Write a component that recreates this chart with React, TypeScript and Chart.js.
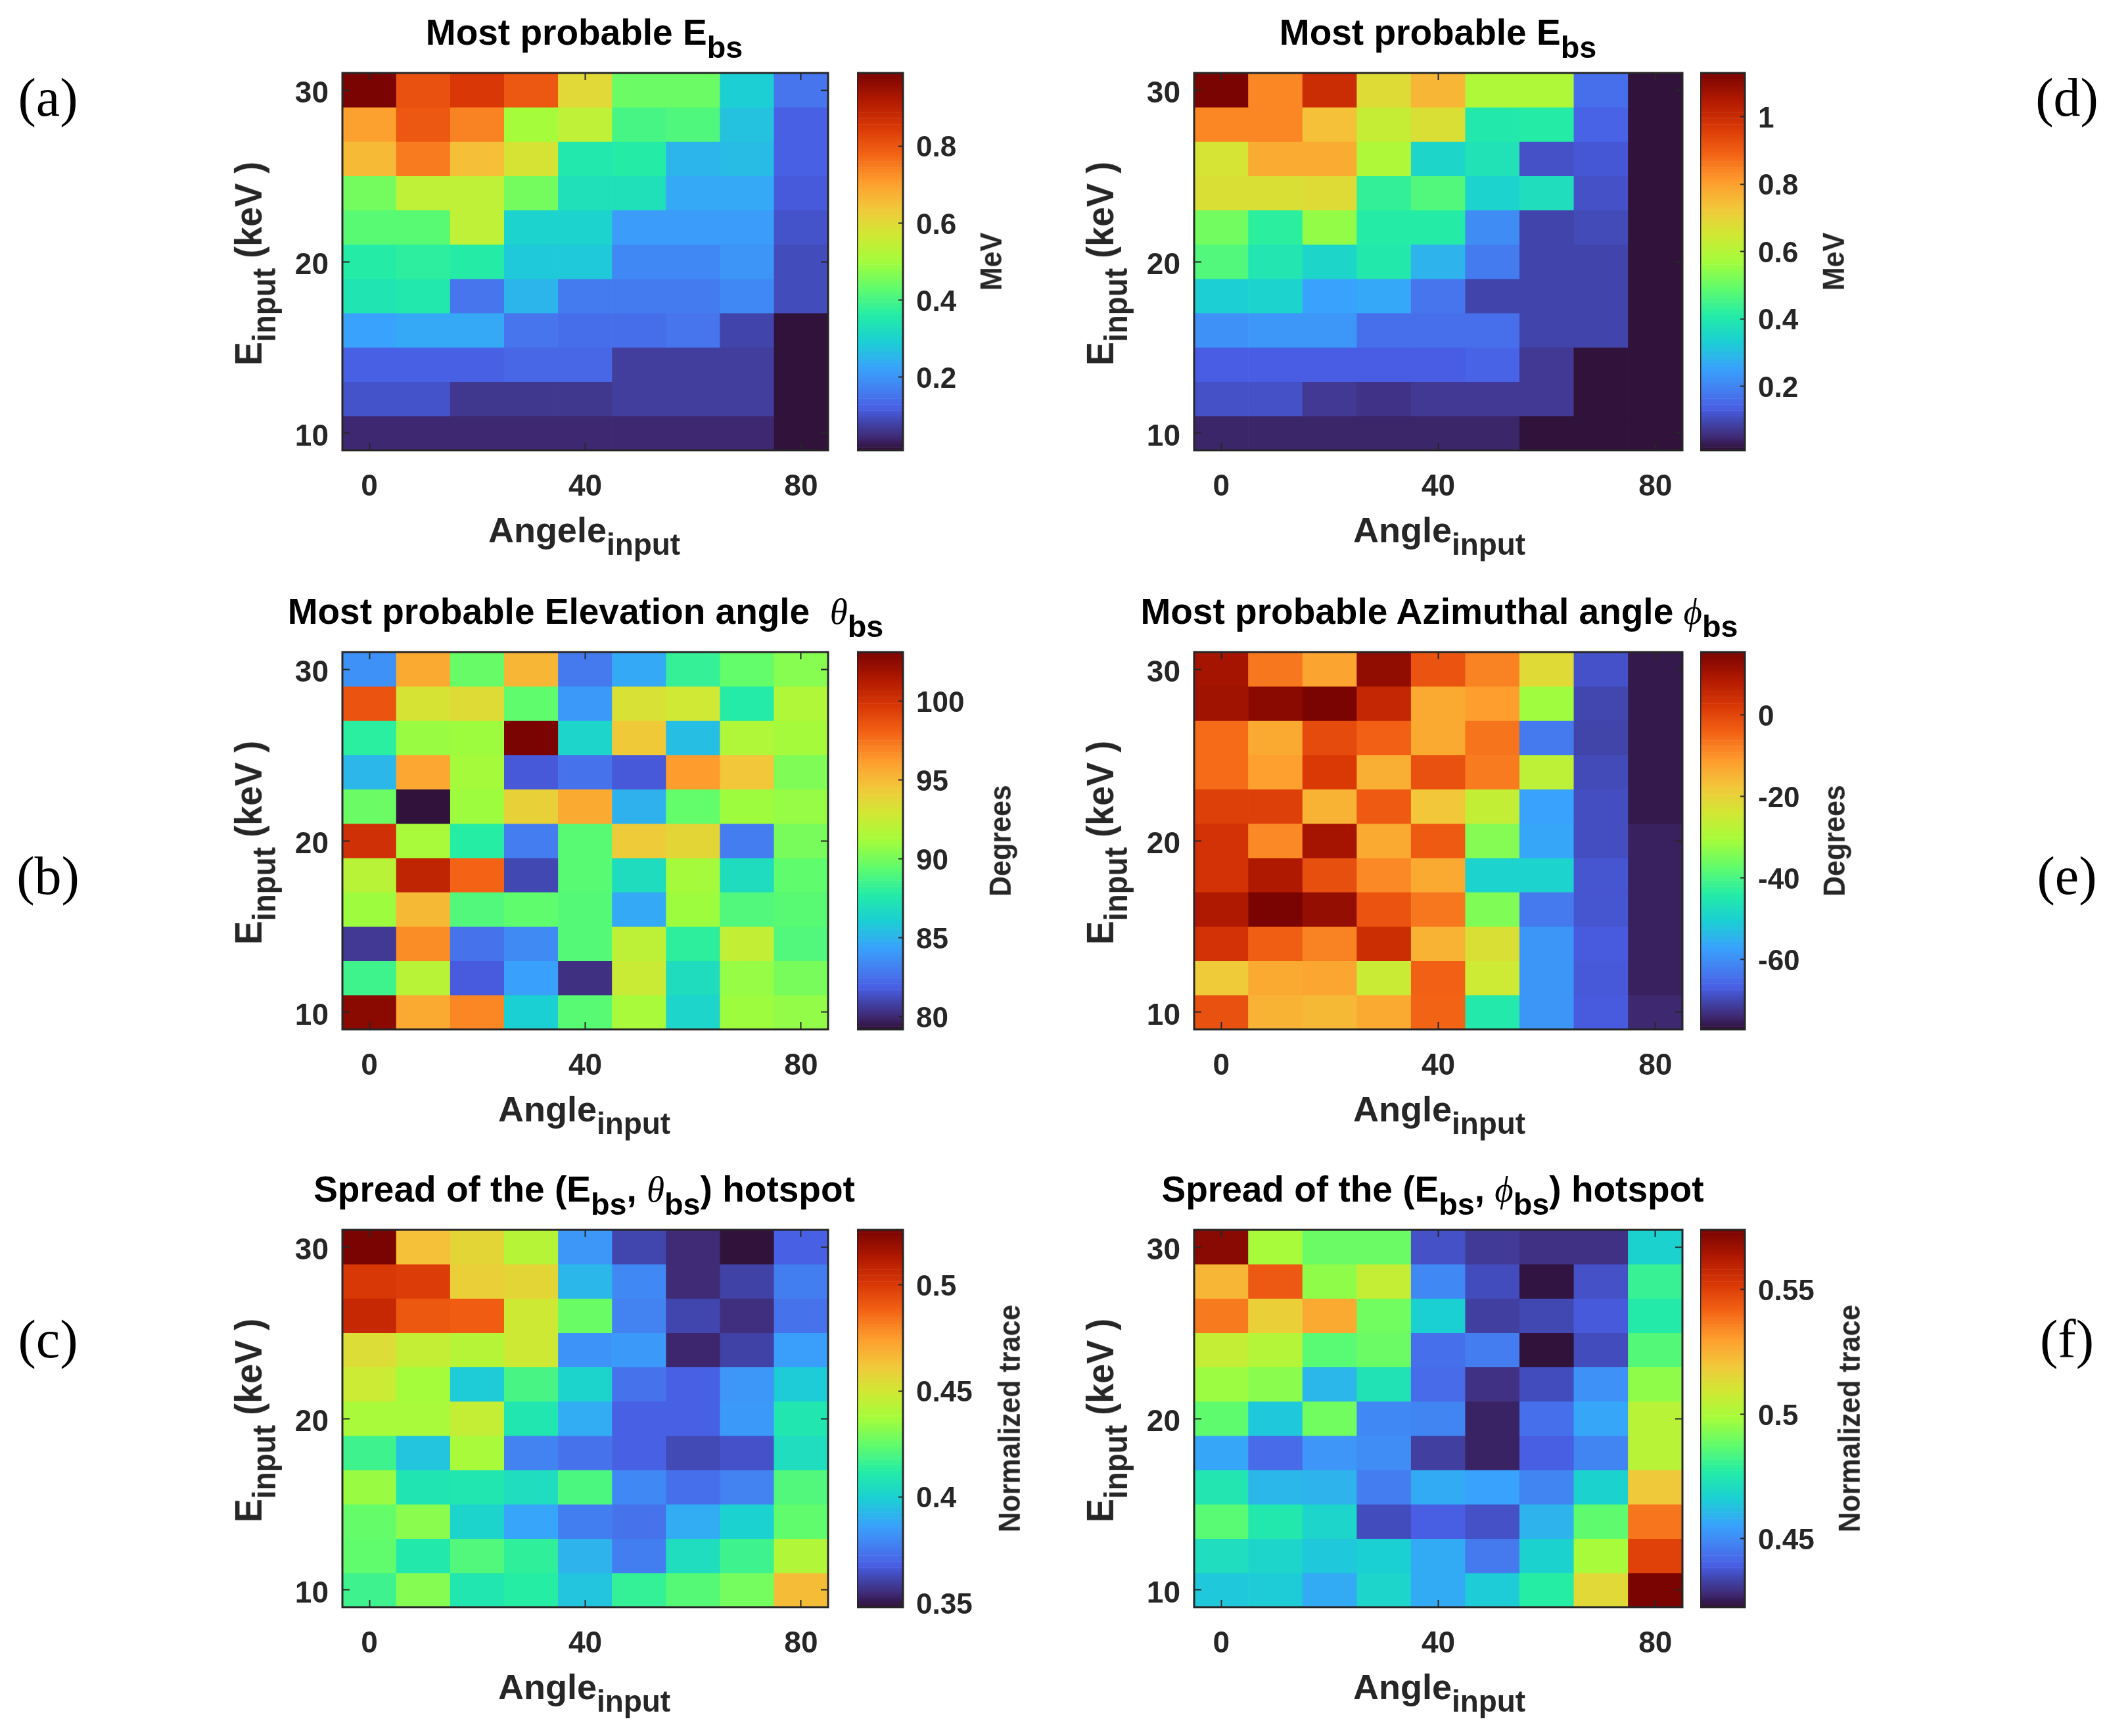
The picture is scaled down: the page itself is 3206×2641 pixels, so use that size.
import { useEffect, useRef } from 'react';
import type { ReactNode } from 'react';
import { Chart, registerables } from 'chart.js';

Chart.register(...registerables);

const angles = [0, 10, 20, 30, 40, 50, 60, 70, 80];
const energies = [30, 28, 26, 24, 22, 20, 18, 16, 14, 12, 10];
const xTicks = [0, 40, 80];
const yTicks = [10, 20, 30];

// rows run from E = 30 keV down to E = 10 keV
const energyA = [
    [0.99, 0.81, 0.85, 0.80, 0.60, 0.44, 0.44, 0.29, 0.15],
    [0.70, 0.80, 0.74, 0.50, 0.54, 0.40, 0.41, 0.27, 0.12],
    [0.66, 0.75, 0.65, 0.58, 0.35, 0.36, 0.25, 0.26, 0.12],
    [0.45, 0.54, 0.54, 0.45, 0.33, 0.33, 0.23, 0.23, 0.11],
    [0.42, 0.42, 0.54, 0.30, 0.30, 0.21, 0.21, 0.21, 0.10],
    [0.36, 0.37, 0.36, 0.28, 0.28, 0.18, 0.18, 0.20, 0.09],
    [0.34, 0.35, 0.15, 0.25, 0.16, 0.16, 0.16, 0.18, 0.09],
    [0.22, 0.23, 0.23, 0.15, 0.14, 0.14, 0.15, 0.08, 0.01],
    [0.12, 0.12, 0.12, 0.13, 0.13, 0.07, 0.07, 0.07, 0.01],
    [0.10, 0.10, 0.06, 0.06, 0.06, 0.07, 0.07, 0.07, 0.01],
    [0.04, 0.04, 0.04, 0.04, 0.04, 0.04, 0.04, 0.04, 0.01],
];
const energyD = [
    [1.13, 0.84, 1.00, 0.68, 0.76, 0.59, 0.59, 0.16, 0.01],
    [0.84, 0.84, 0.74, 0.63, 0.67, 0.40, 0.41, 0.14, 0.01],
    [0.66, 0.78, 0.78, 0.59, 0.35, 0.38, 0.11, 0.12, 0.01],
    [0.67, 0.67, 0.68, 0.43, 0.47, 0.34, 0.37, 0.11, 0.01],
    [0.51, 0.42, 0.55, 0.41, 0.41, 0.21, 0.09, 0.10, 0.01],
    [0.47, 0.39, 0.35, 0.40, 0.28, 0.18, 0.09, 0.09, 0.01],
    [0.33, 0.34, 0.25, 0.26, 0.17, 0.09, 0.09, 0.09, 0.01],
    [0.22, 0.23, 0.23, 0.16, 0.16, 0.16, 0.09, 0.09, 0.01],
    [0.13, 0.13, 0.13, 0.13, 0.13, 0.14, 0.07, 0.01, 0.01],
    [0.11, 0.11, 0.07, 0.06, 0.07, 0.07, 0.07, 0.01, 0.01],
    [0.04, 0.04, 0.04, 0.04, 0.04, 0.04, 0.01, 0.01, 0.01],
];
const elevationB = [
    [83.7, 95.7, 89.6, 95.2, 82.8, 84.6, 88.2, 89.5, 90.4],
    [98.6, 93.1, 93.5, 89.4, 84.0, 93.2, 92.8, 87.7, 91.6],
    [87.9, 90.9, 91.0, 103.1, 86.4, 94.4, 85.4, 91.6, 91.2],
    [85.1, 95.8, 91.2, 81.6, 82.5, 81.6, 96.2, 94.5, 90.2],
    [89.7, 79.2, 91.0, 94.0, 95.7, 84.9, 89.5, 91.0, 90.8],
    [100.1, 91.3, 87.8, 82.9, 89.2, 94.3, 93.8, 82.9, 90.0],
    [91.9, 100.8, 98.0, 81.0, 89.2, 86.8, 91.2, 86.8, 89.4],
    [91.0, 95.1, 89.0, 89.4, 89.1, 84.6, 91.0, 89.0, 89.2],
    [80.5, 96.7, 82.5, 83.4, 89.1, 92.1, 88.0, 92.3, 89.0],
    [88.5, 91.9, 81.7, 84.3, 80.2, 92.6, 86.8, 90.8, 90.0],
    [102.6, 95.7, 96.9, 86.1, 89.2, 91.3, 86.4, 91.0, 90.7],
];
const azimuthE = [
    [10.3, -6.8, -12.4, 12.6, -2.2, -8.2, -21.6, -68.9, -76.3],
    [10.8, 13.5, 15.4, 5.7, -13.3, -11.5, -31.4, -70.3, -76.3],
    [-5.4, -13.3, -0.8, -4.0, -13.3, -6.4, -63.3, -70.7, -76.3],
    [-5.4, -11.9, 2.0, -14.2, -1.7, -7.3, -27.2, -69.8, -76.3],
    [1.0, 1.0, -14.7, -3.1, -17.9, -26.3, -57.3, -69.3, -76.3],
    [3.4, -9.1, 10.3, -13.3, -3.1, -34.1, -56.8, -69.3, -75.3],
    [3.4, 8.9, -1.3, -9.1, -13.3, -49.9, -49.9, -68.4, -75.3],
    [8.9, 15.4, 12.2, -2.2, -6.8, -34.6, -63.3, -68.4, -75.3],
    [3.4, -3.6, -8.2, 4.3, -14.7, -22.6, -59.1, -67.5, -75.3],
    [-18.4, -13.3, -12.8, -25.3, -4.0, -24.9, -59.1, -67.9, -75.3],
    [-1.7, -14.7, -15.6, -13.3, -4.5, -44.8, -59.1, -67.5, -74.4],
];
const spreadC = [
    [0.526, 0.464, 0.457, 0.442, 0.383, 0.361, 0.354, 0.348, 0.368],
    [0.501, 0.499, 0.459, 0.457, 0.392, 0.379, 0.354, 0.360, 0.376],
    [0.507, 0.491, 0.490, 0.449, 0.426, 0.377, 0.361, 0.355, 0.373],
    [0.454, 0.446, 0.442, 0.449, 0.382, 0.384, 0.353, 0.360, 0.385],
    [0.448, 0.437, 0.398, 0.419, 0.401, 0.373, 0.368, 0.383, 0.398],
    [0.438, 0.438, 0.446, 0.409, 0.389, 0.368, 0.368, 0.384, 0.409],
    [0.417, 0.396, 0.438, 0.377, 0.373, 0.368, 0.362, 0.364, 0.405],
    [0.435, 0.408, 0.409, 0.405, 0.420, 0.379, 0.372, 0.377, 0.421],
    [0.425, 0.432, 0.401, 0.387, 0.376, 0.373, 0.389, 0.400, 0.424],
    [0.424, 0.410, 0.421, 0.414, 0.391, 0.376, 0.405, 0.417, 0.441],
    [0.417, 0.431, 0.409, 0.412, 0.396, 0.415, 0.422, 0.428, 0.465],
];
const spreadF = [
    [0.571, 0.499, 0.489, 0.489, 0.436, 0.431, 0.429, 0.429, 0.467],
    [0.524, 0.544, 0.495, 0.506, 0.449, 0.435, 0.423, 0.436, 0.480],
    [0.537, 0.517, 0.527, 0.490, 0.466, 0.432, 0.434, 0.438, 0.476],
    [0.506, 0.502, 0.486, 0.489, 0.443, 0.446, 0.4225, 0.435, 0.485],
    [0.497, 0.494, 0.460, 0.473, 0.442, 0.429, 0.435, 0.451, 0.495],
    [0.487, 0.464, 0.490, 0.449, 0.448, 0.426, 0.443, 0.456, 0.503],
    [0.456, 0.442, 0.452, 0.450, 0.432, 0.426, 0.439, 0.448, 0.503],
    [0.474, 0.460, 0.459, 0.446, 0.457, 0.455, 0.448, 0.467, 0.519],
    [0.486, 0.475, 0.468, 0.435, 0.439, 0.436, 0.459, 0.487, 0.538],
    [0.471, 0.468, 0.464, 0.466, 0.457, 0.445, 0.467, 0.499, 0.550],
    [0.464, 0.465, 0.457, 0.468, 0.457, 0.465, 0.477, 0.514, 0.574],
];

// stops of the turbo colormap, the dark blue end needs the extra ones
const turboAt = [0, 0.5, 1, 1.5, 2, 3, 4, 5, 6, 7, 8, 9, 10, 11, 12, 13, 14];
const turboStops = [
    [48, 18, 59], [64, 44, 122], [65, 69, 171], [72, 93, 227], [70, 117, 237], [57, 162, 252], [27, 207, 212],
    [36, 236, 166], [97, 252, 108], [164, 252, 59], [209, 232, 52], [243, 198, 58],
    [254, 155, 45], [243, 99, 21], [217, 56, 6], [177, 25, 1], [122, 4, 2],
];

function turbo(t: number) {
    const p = Math.min(Math.max(t, 0), 1) * 14;
    let i = 0;
    while (i < turboAt.length - 2 && turboAt[i + 1] <= p) i++;
    const f = (p - turboAt[i]) / (turboAt[i + 1] - turboAt[i]);
    const c = turboStops[i].map((v, k) => Math.round(v + (turboStops[i + 1][k] - v) * f));
    return `rgb(${c[0]},${c[1]},${c[2]})`;
}

const INK = '#262626';
const SANS = '"Liberation Sans", Arial, sans-serif';
const SERIF = '"Liberation Serif", serif';
const TICK_FONT = { family: SANS, size: 46, weight: 'bold' as const };

const boxPlugin = {
    id: 'box',
    afterDraw(chart: Chart) {
        const { ctx, chartArea: a } = chart;
        ctx.save();
        ctx.strokeStyle = INK;
        ctx.lineWidth = 3;
        ctx.strokeRect(a.left, a.top, a.right - a.left, a.bottom - a.top);
        ctx.restore();
    },
};

function setTicks(list: number[]) {
    return (scale: any) => {
        scale.ticks = list.map(value => ({ value }));
    };
}

function markOnly(size: number, axis: 'x' | 'y') {
    return (scale: any) => {
        if (axis === 'x') scale.height = size;
        else scale.width = size;
    };
}

const inwardGrid = { drawOnChartArea: false, tickLength: -11, tickColor: INK, tickWidth: 2, z: 1, offset: false };

interface HeatProps {
    left: number;
    top: number;
    width: number;
    height: number;
    values: number[][];
    min: number;
    max: number;
}

const PAD_LEFT = 120;
const PAD_TOP = 80;
const PAD_RIGHT = 30;
const PAD_BOTTOM = 110;

function Heatmap({ left, top, width, height, values, min, max }: HeatProps) {
    const canvasRef = useRef<HTMLCanvasElement>(null);

    useEffect(() => {
        if (!canvasRef.current) return;
        const chart = new Chart(canvasRef.current, {
            type: 'bar',
            data: {
                datasets: energies.map((e, i) => ({
                    data: angles.map(a => ({ x: a, y: [e - 1, e + 1] })),
                    backgroundColor: values[i].map(v => turbo((v - min) / (max - min))),
                    grouped: false,
                    barPercentage: 1,
                    categoryPercentage: 1,
                    borderWidth: 0,
                })) as any,
            },
            options: {
                animation: false,
                responsive: false,
                devicePixelRatio: 1,
                layout: { padding: { top: PAD_TOP, right: PAD_RIGHT, left: 0, bottom: 0 } },
                plugins: { legend: { display: false }, tooltip: { enabled: false } },
                scales: {
                    x: {
                        type: 'linear', min: -5, max: 85, offset: false, position: 'bottom',
                        grid: inwardGrid, border: { display: false },
                        ticks: { color: INK, font: TICK_FONT, padding: 40, maxRotation: 0 },
                        afterBuildTicks: setTicks(xTicks),
                        afterFit: markOnly(PAD_BOTTOM, 'x'),
                    },
                    x2: {
                        type: 'linear', min: -5, max: 85, offset: false, position: 'top',
                        grid: inwardGrid, border: { display: false },
                        ticks: { display: false },
                        afterBuildTicks: setTicks(xTicks),
                        afterFit: markOnly(0, 'x'),
                    },
                    y: {
                        type: 'linear', min: 9, max: 31, position: 'left',
                        grid: inwardGrid, border: { display: false },
                        ticks: { color: INK, font: TICK_FONT, padding: 32, labelOffset: 6 },
                        afterBuildTicks: setTicks(yTicks),
                        afterFit: markOnly(PAD_LEFT, 'y'),
                    },
                    y2: {
                        type: 'linear', min: 9, max: 31, position: 'right',
                        grid: inwardGrid, border: { display: false },
                        ticks: { display: false },
                        afterBuildTicks: setTicks(yTicks),
                        afterFit: markOnly(0, 'y'),
                    },
                },
            } as any,
            plugins: [boxPlugin],
        });
        return () => chart.destroy();
    }, [values, min, max]);

    return (
        <canvas
            ref={canvasRef}
            width={width + PAD_LEFT + PAD_RIGHT}
            height={height + PAD_TOP + PAD_BOTTOM}
            style={{ position: 'absolute', left: left - PAD_LEFT, top: top - PAD_TOP }}
        />
    );
}

interface BarProps {
    left: number;
    top: number;
    width: number;
    height: number;
    min: number;
    max: number;
    ticks: number[];
}

const CB_RIGHT = 150;

function Colorbar({ left, top, width, height, min, max, ticks }: BarProps) {
    const canvasRef = useRef<HTMLCanvasElement>(null);

    useEffect(() => {
        if (!canvasRef.current) return;
        const steps = Array.from({ length: 256 }, (_, i) => i);
        const chart = new Chart(canvasRef.current, {
            type: 'bar',
            data: {
                labels: [''],
                datasets: steps.map(i => ({
                    data: [[min + ((max - min) * i) / 256, min + ((max - min) * (i + 1)) / 256]],
                    backgroundColor: turbo(i / 255),
                    grouped: false,
                    barPercentage: 1,
                    categoryPercentage: 1,
                    borderWidth: 0,
                })) as any,
            },
            options: {
                animation: false,
                responsive: false,
                devicePixelRatio: 1,
                layout: { padding: { top: PAD_TOP, right: 0, left: 0, bottom: PAD_TOP } },
                plugins: { legend: { display: false }, tooltip: { enabled: false } },
                scales: {
                    x: {
                        grid: { display: false }, border: { display: false },
                        ticks: { display: false },
                        afterFit: markOnly(0, 'x'),
                    },
                    y: {
                        type: 'linear', min, max, position: 'right',
                        grid: { ...inwardGrid, tickLength: -7 }, border: { display: false },
                        ticks: {
                            color: INK, font: { ...TICK_FONT, size: 44 }, padding: 27, labelOffset: 4,
                            callback: (v: number) => String(v),
                        },
                        afterBuildTicks: setTicks(ticks),
                        afterFit: markOnly(CB_RIGHT, 'y'),
                    },
                },
            } as any,
            plugins: [boxPlugin],
        });
        return () => chart.destroy();
    }, [min, max, ticks]);

    return (
        <canvas
            ref={canvasRef}
            width={width + CB_RIGHT}
            height={height + PAD_TOP * 2}
            style={{ position: 'absolute', left, top: top - PAD_TOP }}
        />
    );
}

function Label({ x, y, size, rotate, color, font, children }: {
    x: number; y: number; size: number; rotate?: boolean; color?: string; font?: string; children: ReactNode;
}) {
    return (
        <div style={{
            position: 'absolute', left: x, top: y,
            transform: `translate(-50%, -50%)${rotate ? ' rotate(-90deg) scaleY(1.07)' : ''}`,
            fontFamily: font ?? SANS, fontWeight: font ? 'normal' : 'bold', fontSize: size,
            color: color ?? INK, whiteSpace: 'pre', lineHeight: 1,
        }}>
            {children}
        </div>
    );
}

function Sub({ children }: { children: ReactNode }) {
    return <span style={{ fontSize: '0.85em', position: 'relative', top: '0.42em' }}>{children}</span>;
}

function Greek({ children }: { children: ReactNode }) {
    return <span style={{ fontFamily: SERIF, fontStyle: 'italic', fontWeight: 'normal' }}>{children}</span>;
}

interface Panel {
    tag: string;
    tagX: number;
    tagY: number;
    col: number;
    top: number;
    values: number[][];
    min: number;
    max: number;
    ticks: number[];
    unit: string;
    unitX: number;
    title: ReactNode;
    titleX: number;
    xName: string;
}

const columns = [
    { plot: 521, plotW: 739, bar: 1304, barW: 70, xLabel: 889, yLabel: 378 },
    { plot: 1817, plotW: 743, bar: 2587, barW: 68, xLabel: 2190, yLabel: 1674 },
];

const panels: Panel[] = [
    {
        tag: '(a)', tagX: 73, tagY: 149, col: 0, top: 111, values: energyA, min: 0.01, max: 0.99,
        ticks: [0.2, 0.4, 0.6, 0.8], unit: 'MeV', unitX: 1508, titleX: 889, xName: 'Angele',
        title: <>Most probable E<Sub>bs</Sub></>,
    },
    {
        tag: '(b)', tagX: 73, tagY: 1333, col: 0, top: 992, values: elevationB, min: 79.2, max: 103.1,
        ticks: [80, 85, 90, 95, 100], unit: 'Degrees', unitX: 1522, titleX: 891, xName: 'Angle',
        title: <>Most probable Elevation angle  <Greek>θ</Greek><Sub>bs</Sub></>,
    },
    {
        tag: '(c)', tagX: 73, tagY: 2038, col: 0, top: 1871, values: spreadC, min: 0.348, max: 0.526,
        ticks: [0.35, 0.4, 0.45, 0.5], unit: 'Normalized trace', unitX: 1536, titleX: 889, xName: 'Angle',
        title: <>Spread of the (E<Sub>bs</Sub>, <Greek>θ</Greek><Sub>bs</Sub>) hotspot</>,
    },
    {
        tag: '(d)', tagX: 3145, tagY: 149, col: 1, top: 111, values: energyD, min: 0.01, max: 1.13,
        ticks: [0.2, 0.4, 0.6, 0.8, 1], unit: 'MeV', unitX: 2790, titleX: 2188, xName: 'Angle',
        title: <>Most probable E<Sub>bs</Sub></>,
    },
    {
        tag: '(e)', tagX: 3145, tagY: 1333, col: 1, top: 992, values: azimuthE, min: -77.2, max: 15.4,
        ticks: [-60, -40, -20, 0], unit: 'Degrees', unitX: 2791, titleX: 2190, xName: 'Angle',
        title: <>Most probable Azimuthal angle <Greek>ϕ</Greek><Sub>bs</Sub></>,
    },
    {
        tag: '(f)', tagX: 3145, tagY: 2038, col: 1, top: 1871, values: spreadF, min: 0.4225, max: 0.574,
        ticks: [0.45, 0.5, 0.55], unit: 'Normalized trace', unitX: 2814, titleX: 2180, xName: 'Angle',
        title: <>Spread of the (E<Sub>bs</Sub>, <Greek>ϕ</Greek><Sub>bs</Sub>) hotspot</>,
    },
];

const PLOT_H = 574;

export default function App() {
    return (
        <div style={{ position: 'absolute', left: 0, top: 0, width: 3206, height: 2641, background: '#fff', overflow: 'hidden' }}>
            {panels.map(p => {
                const c = columns[p.col];
                return (
                    <div key={p.tag}>
                        <Heatmap left={c.plot} top={p.top} width={c.plotW} height={PLOT_H} values={p.values} min={p.min} max={p.max} />
                        <Colorbar left={c.bar} top={p.top} width={c.barW} height={PLOT_H} min={p.min} max={p.max} ticks={p.ticks} />
                        <Label x={p.titleX} y={p.top - 62} size={55} color="#000">{p.title}</Label>
                        <Label x={c.xLabel} y={p.top + 695} size={54}>{p.xName}<Sub>input</Sub></Label>
                        <Label x={c.yLabel} y={p.top + 290} size={54} rotate>E<Sub>input</Sub> (keV )</Label>
                        <Label x={p.unitX} y={p.top + 287} size={43} rotate>{p.unit}</Label>
                        <Label x={p.tagX} y={p.tagY} size={82} color="#000" font={SERIF}>{p.tag}</Label>
                    </div>
                );
            })}
        </div>
    );
}
